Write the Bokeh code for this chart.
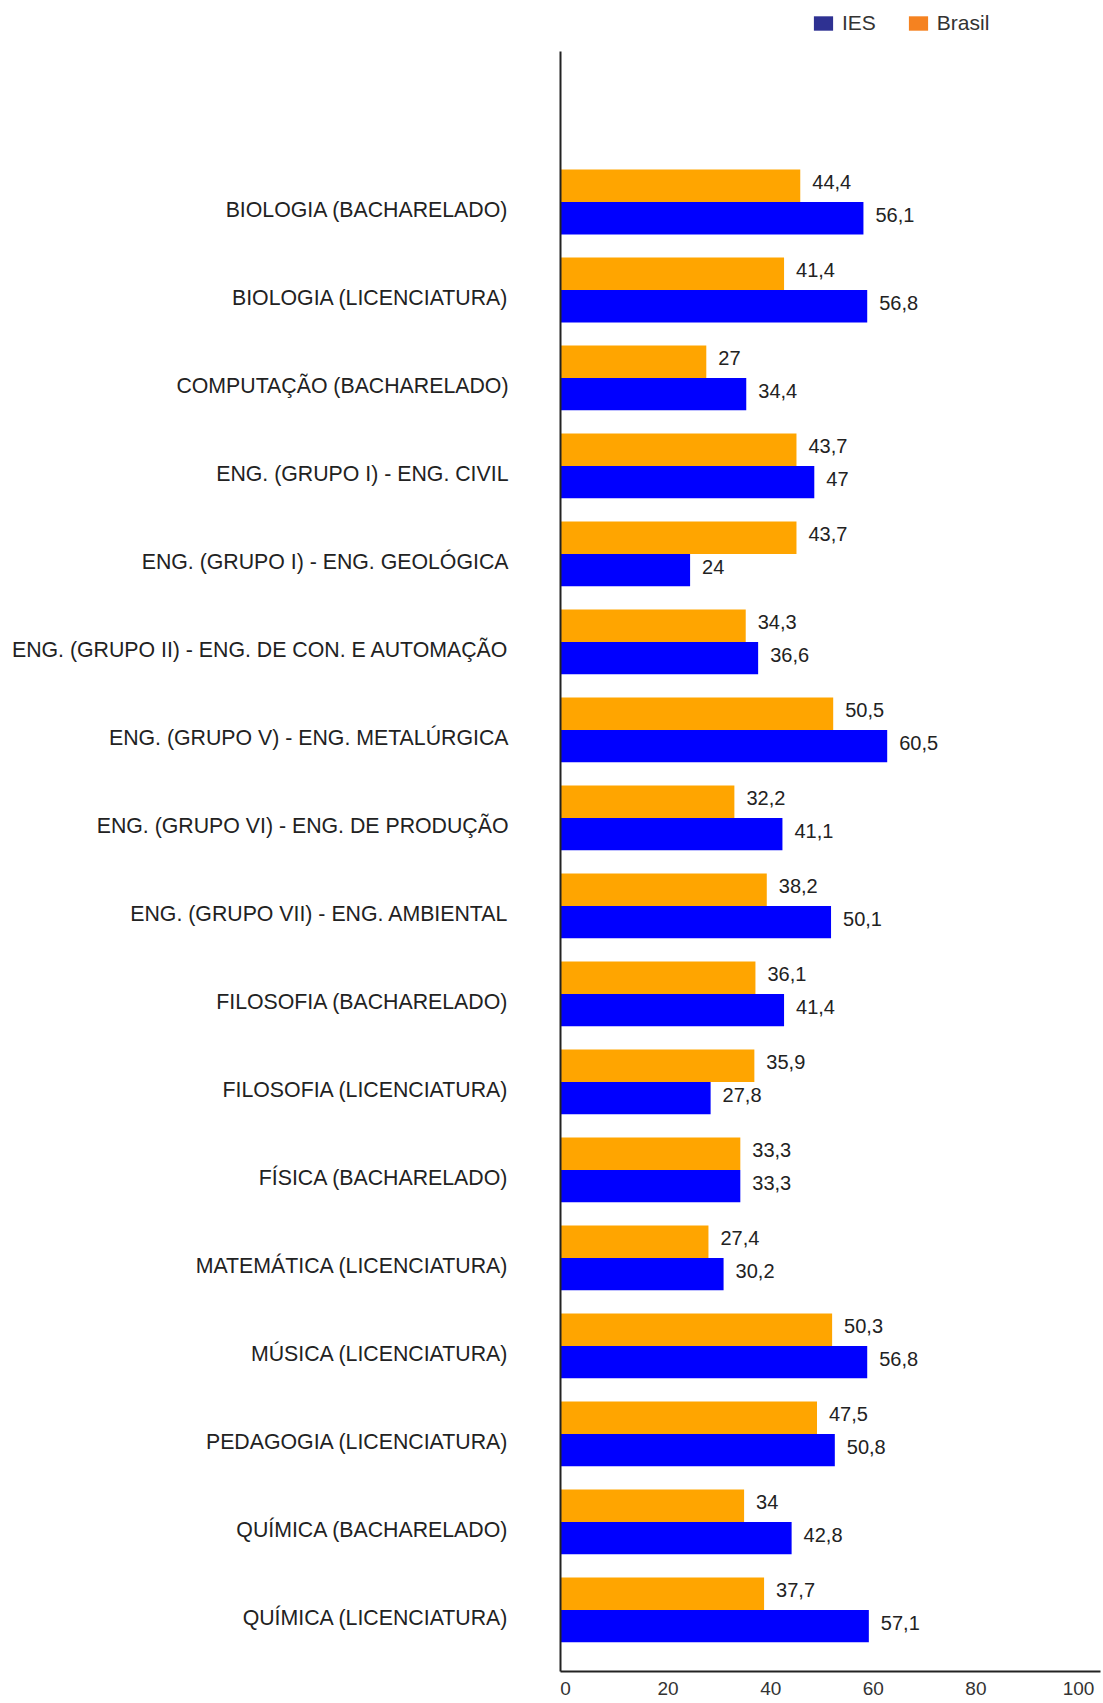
from bokeh.plotting import figure
from bokeh.models import (Range1d, LinearAxis, FixedTicker, ColumnDataSource,
                          Legend, LegendItem)
from bokeh.transform import dodge
from bokeh.core.properties import value
from bokeh.embed import file_html
from bokeh.resources import INLINE

categories = [
    "BIOLOGIA (BACHARELADO)",
    "BIOLOGIA (LICENCIATURA)",
    "COMPUTAÇÃO (BACHARELADO)",
    "ENG. (GRUPO I) - ENG. CIVIL",
    "ENG. (GRUPO I) - ENG. GEOLÓGICA",
    "ENG. (GRUPO II) - ENG. DE CON. E AUTOMAÇÃO",
    "ENG. (GRUPO V) - ENG. METALÚRGICA",
    "ENG. (GRUPO VI) - ENG. DE PRODUÇÃO",
    "ENG. (GRUPO VII) - ENG. AMBIENTAL",
    "FILOSOFIA (BACHARELADO)",
    "FILOSOFIA (LICENCIATURA)",
    "FÍSICA (BACHARELADO)",
    "MATEMÁTICA (LICENCIATURA)",
    "MÚSICA (LICENCIATURA)",
    "PEDAGOGIA (LICENCIATURA)",
    "QUÍMICA (BACHARELADO)",
    "QUÍMICA (LICENCIATURA)",
]
ies = [56.1, 56.8, 34.4, 47, 24, 36.6, 60.5, 41.1, 50.1, 41.4, 27.8, 33.3, 30.2, 56.8, 50.8, 42.8, 57.1]
brasil = [44.4, 41.4, 27, 43.7, 43.7, 34.3, 50.5, 32.2, 38.2, 36.1, 35.9, 33.3, 27.4, 50.3, 47.5, 34, 37.7]
x_ticks = [0, 20, 40, 60, 80, 100]
series_names = ["IES", "Brasil"]


def fmt(v):
    return f"{v:g}".replace(".", ",")


n = len(categories)
pos = [n - 1 - i for i in range(n)]

src = ColumnDataSource(dict(
    pos=pos,
    ies=ies,
    brasil=brasil,
    ies_lbl=[fmt(v) for v in ies],
    brasil_lbl=[fmt(v) for v in brasil],
))

FONT = "Liberation Sans"
TXT = "#222222"
BAR_H = 0.368
SHIFT = 0.09           # group sits slightly above its label
OFF_B = BAR_H / 2 + SHIFT
OFF_I = -BAR_H / 2 + SHIFT
Y0 = SHIFT - 0.70      # bottom of the plotting area
Y_AXIS_TOP = n - 1 + SHIFT + 1.71   # where the vertical axis line stops
Y1 = Y_AXIS_TOP + 0.58  # the area above (legend row)

p = figure(width=1103, height=1703, output_backend="svg", toolbar_location=None,
           x_range=Range1d(0, 100), y_range=Range1d(Y0, Y1),
           x_axis_location=None,
           min_border_left=560, min_border_right=3, min_border_top=0, min_border_bottom=32)
p.outline_line_color = None
p.grid.visible = False
p.background_fill_color = "white"
p.border_fill_color = "white"

# bars
p.hbar(y=dodge("pos", OFF_B, range=p.y_range), left=0, right="brasil", height=BAR_H,
       fill_color="#FFA500", line_color=None, source=src)
p.hbar(y=dodge("pos", OFF_I, range=p.y_range), left=0, right="ies", height=BAR_H,
       fill_color="#0000FF", line_color=None, source=src)

# value labels
p.text(x="brasil", y=dodge("pos", OFF_B, range=p.y_range), text="brasil_lbl", source=src,
       x_offset=12, y_offset=-3.5, text_baseline="middle", text_align="left",
       text_font=value(FONT), text_font_size="20px", text_color=TXT)
p.text(x="ies", y=dodge("pos", OFF_I, range=p.y_range), text="ies_lbl", source=src,
       x_offset=12, y_offset=-3.5, text_baseline="middle", text_align="left",
       text_font=value(FONT), text_font_size="20px", text_color=TXT)

# y axis with category names
yax = p.yaxis[0]
yax.ticker = FixedTicker(ticks=pos)
yax.bounds = (Y0, Y_AXIS_TOP)
yax.major_label_overrides = {pp: c for pp, c in zip(pos, categories)}
yax.major_tick_line_color = None
yax.minor_tick_line_color = None
yax.major_tick_out = 0
yax.major_tick_in = 0
yax.major_label_standoff = 52
yax.major_label_text_font = FONT
yax.major_label_text_font_size = "21.3px"
yax.major_label_text_color = TXT
yax.axis_line_color = "#222222"
yax.axis_line_width = 2

# x axis (tick labels placed as in the reference)
p.extra_x_ranges = {"ticks": Range1d(-0.975, 104.29)}
xax = LinearAxis(x_range_name="ticks", ticker=FixedTicker(ticks=x_ticks))
xax.major_tick_line_color = None
xax.minor_tick_line_color = None
xax.major_tick_out = 0
xax.major_tick_in = 0
xax.major_label_standoff = 10
xax.major_label_text_font = FONT
xax.major_label_text_font_size = "19px"
xax.major_label_text_color = "#333333"
xax.axis_line_color = "#222222"
xax.axis_line_width = 2
p.add_layout(xax, "below")

# legend: hidden copies of the series carry the reference's swatch colours
r_ies = p.hbar(y=dodge("pos", OFF_I, range=p.y_range), left=0, right="ies", height=BAR_H,
               fill_color="#2E3192", line_color=None, source=src, visible=False)
r_br = p.hbar(y=dodge("pos", OFF_B, range=p.y_range), left=0, right="brasil", height=BAR_H,
              fill_color="#F58220", line_color=None, source=src, visible=False)
legend = Legend(items=[LegendItem(label=series_names[0], renderers=[r_ies]),
                       LegendItem(label=series_names[1], renderers=[r_br])],
                orientation="horizontal", location=(251, 1636),
                glyph_width=24, glyph_height=18, label_standoff=7, spacing=30,
                padding=0, margin=0, border_line_color=None,
                background_fill_alpha=0,
                label_text_font=FONT, label_text_font_size="21px",
                label_text_color="#333333")
p.add_layout(legend, "center")

open("out.html", "w").write(file_html(p, INLINE))
